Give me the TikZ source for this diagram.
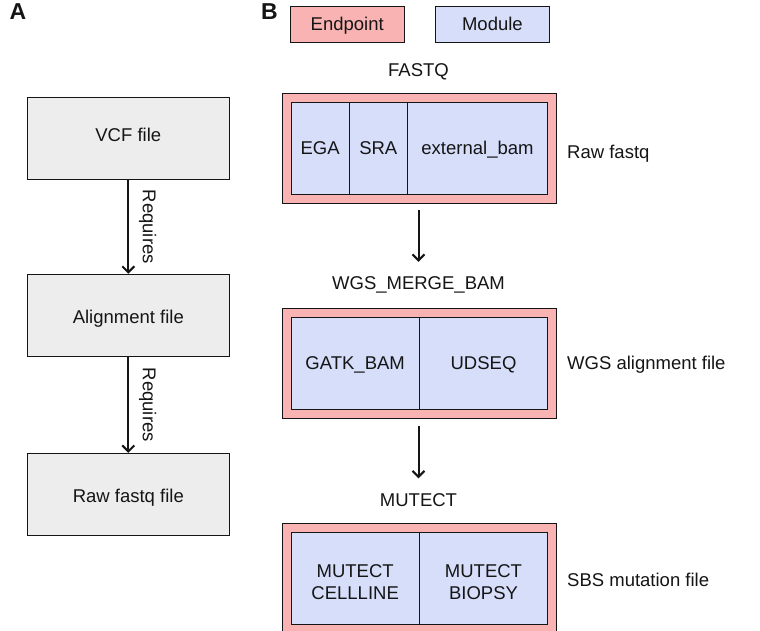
\documentclass[tikz,border=0pt]{standalone}
\usepackage{fontspec}
\setmainfont{Liberation Sans}
\usetikzlibrary{arrows.meta}
\definecolor{endp}{HTML}{FAB3B3}
\definecolor{modc}{HTML}{D6DEFA}
\definecolor{filec}{HTML}{EDEDED}
\definecolor{ink}{HTML}{151515}
\begin{document}
\begin{tikzpicture}[x=1pt,y=-1pt,
  font=\fontsize{18.5}{22}\selectfont, text=ink,
  box/.style={draw=ink, line width=1pt, inner sep=0pt, text height=13pt, text depth=0pt, align=center},
  filebox/.style={box, fill=filec, minimum width=202pt, minimum height=82pt},
  outerbox/.style={box, fill=endp, minimum width=273.3pt, minimum height=110pt},
  cell/.style={box, fill=modc, minimum height=92pt},
  legend/.style={box, minimum height=35.6pt},
  lbl/.style={inner sep=0pt, text height=13pt, text depth=0pt},
  arr/.style={draw=ink, line width=2pt, -{Straight Barb[length=6pt,width=12pt,line width=2pt]}},
  panel/.style={inner sep=0pt, font=\fontsize{23}{26}\selectfont\bfseries, text height=16pt, text depth=0pt}
]
\useasboundingbox (0,0) rectangle (760,631);
\fill[white] (0,0) rectangle (760,631);

% panel labels
\node[panel] (pA) at (18,12) {A};
\node[panel] (pB) at (269.5,11.5) {B};

% panel A
\node[filebox, text depth=5.8pt] (vcf) at (128.3,138.2) {VCF file};
\node[filebox, text height=16pt] (aln) at (128.3,315.2) {Alignment file};
\node[filebox, text height=17pt] (raw) at (128.3,494.3) {Raw fastq file};
\draw[arr] (vcf.south) -- node[midway, xshift=21pt, rotate=-90, lbl] (req1) {Requires} (aln.north);
\draw[arr] (aln.south) -- node[midway, xshift=21pt, rotate=-90, lbl] (req2) {Requires} (raw.north);

% legend
\node[legend, fill=endp, minimum width=114.3pt] (lend) at (347.2,24.5) {Endpoint};
\node[legend, fill=modc, minimum width=113.3pt] (lmod) at (492.4,24.5) {Module};

% block 1
\node[lbl] (fastq) at (418.5,70.2) {FASTQ};
\node[outerbox] (o1) at (419.35,148.3) {};
\node[cell, minimum width=58.3pt] (ega) at (320.15,148.3) {EGA};
\node[cell, minimum width=58pt] (sra) at (378.3,148.3) {SRA};
\node[cell, minimum width=140.4pt] (ext) at (477.5,148.3) {external\_bam};
\node[lbl, anchor=west] (l1) at (567,152) {Raw fastq};

% block 2
\node[lbl] (wgs) at (418.5,283) {WGS\_MERGE\_BAM};
\node[outerbox] (o2) at (419.35,363.3) {};
\node[cell, minimum width=128.3pt] (gatk) at (355.15,363.3) {GATK\_BAM};
\node[cell, minimum width=128.4pt] (udseq) at (483.5,363.3) {UDSEQ};
\node[lbl, anchor=west] (l2) at (567,363) {WGS alignment file};

% block 3
\node[lbl] (mut) at (418.5,499.5) {MUTECT};
\node[outerbox] (o3) at (419.35,578.3) {};
\node[cell, minimum width=128.3pt, text height=42.4pt] (mcl) at (355.15,578.3) {MUTECT\\CELLLINE};
\node[cell, minimum width=128.4pt, text height=42.4pt] (mbi) at (483.5,578.3) {MUTECT\\BIOPSY};
\node[lbl, anchor=west] (l3) at (567,580) {SBS mutation file};

% arrows in B
\draw[arr, shorten <=6.7pt, shorten >=14.5pt] (wgs.north |- o1.south) -- (wgs.north);
\draw[arr, shorten <=6.7pt, shorten >=14.5pt] (mut.north |- o2.south) -- (mut.north);
\end{tikzpicture}
\end{document}
